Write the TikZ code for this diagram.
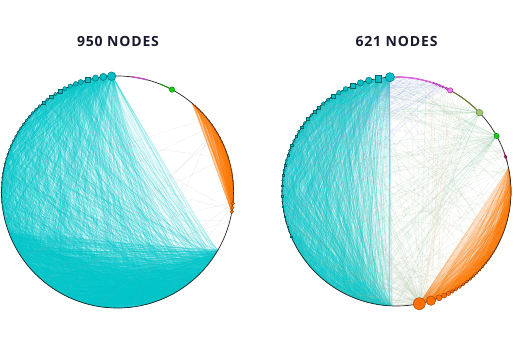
\documentclass[tikz,border=0pt]{standalone}
\usepackage{fontspec}
\setmainfont{Open Sans}
\newfontfamily\ttlfont[LetterSpace=6]{Open Sans}
\definecolor{cyE}{RGB}{0,196,200}
\definecolor{cyN}{RGB}{0,190,195}
\definecolor{cyD}{RGB}{0,100,105}
\definecolor{orE}{RGB}{255,118,0}
\definecolor{orN}{RGB}{255,112,0}
\definecolor{orD}{RGB}{150,60,0}
\definecolor{puA}{RGB}{200,60,200}
\definecolor{piA}{RGB}{230,90,230}
\definecolor{piN}{RGB}{240,120,240}
\definecolor{piD}{RGB}{150,50,150}
\definecolor{olA}{RGB}{110,130,50}
\definecolor{lgN}{RGB}{160,200,110}
\definecolor{lgD}{RGB}{90,120,60}
\definecolor{grN}{RGB}{20,205,20}
\definecolor{grD}{RGB}{10,120,10}
\definecolor{grA}{RGB}{30,150,30}
\definecolor{dmN}{RGB}{150,40,100}
\definecolor{paleG}{RGB}{140,200,160}
\definecolor{paleB}{RGB}{140,160,230}
\definecolor{paleO}{RGB}{245,190,140}
\definecolor{paleGr}{RGB}{170,190,160}
\definecolor{ttl}{RGB}{25,25,45}
\tikzset{
  cyedge/.style={draw=cyE, line width=0.3pt, draw opacity=0.3},
  cyedgeL/.style={draw=cyE, line width=0.3pt, draw opacity=0.18},
  oredge/.style={draw=orE, line width=0.3pt, draw opacity=0.35},
  oredgeL/.style={draw=orE, line width=0.3pt, draw opacity=0.15},
  faint/.style={draw=#1, line width=0.3pt, draw opacity=0.25},
  ring/.style={draw=black!85, line width=0.7pt},
  dotn/.style={inner sep=0pt, outer sep=0pt, line width=0.4pt},
  cyn/.style={dotn, fill=cyN, draw=cyD},
  orn/.style={dotn, fill=orN, draw=orD},
  ttlstyle/.style={font=\ttlfont\bfseries\fontsize{14}{16}\selectfont, text=ttl, anchor=base, inner sep=0pt},
}
\begin{document}
\begin{tikzpicture}[x=1pt,y=1pt]
\useasboundingbox (0,0) rectangle (517,341);
\node[ttlstyle] (t1) at (118,294.5) {950 NODES};
\node[ttlstyle] (t2) at (396.5,294.5) {621 NODES};

\begin{scope}[shift={(117.5,149)}]
  \foreach \k in {0,...,839} {\coordinate (A\k) at (\k/2:116);}
\end{scope}
\begin{scope}[shift={(396.5,149.5)}]
  \foreach \k in {0,...,839} {\coordinate (B\k) at (\k/2:114.5);}
\end{scope}

\pgfmathsetseed{4242}
% ---------- left circle edges ----------
\foreach \i in {1,...,1500} {
  \pgfmathrandominteger{\a}{200}{660}
  \pgfmathrandominteger{\b}{200}{660}
  \draw[cyedge] (A\a) -- (A\b);
}
\foreach \h/\n in {185/260,194/160,202/110,210/80,217/60,224/40,230/30} {
  \foreach \i in {1,...,\n} {
    \pgfmathrandominteger{\b}{200}{660}
    \draw[cyedgeL] (A\h) -- (A\b);
  }
}
\foreach \i in {1,...,1100} {
  \pgfmathrandominteger{\a}{400}{530}
  \pgfmathrandominteger{\b}{570}{660}
  \draw[cyedge] (A\a) -- (A\b);
}
\foreach \h/\n in {700/60,704/50,708/40,712/40} {
  \foreach \i in {1,...,\n} {
    \pgfmathrandominteger{\b}{714}{820}
    \draw[oredge] (A\h) -- (A\b);
  }
}
\foreach \i in {1,...,250} {
  \pgfmathrandominteger{\a}{705}{820}
  \pgfmathrandominteger{\b}{705}{820}
  \draw[oredge] (A\a) -- (A\b);
}
\foreach \i in {1,...,14} {
  \pgfmathrandominteger{\a}{690}{800}
  \pgfmathrandominteger{\b}{250}{650}
  \draw[faint=gray!70] (A\a) -- (A\b);
}

% ---------- right circle edges ----------
\foreach \i in {1,...,800} {
  \pgfmathrandominteger{\a}{210}{536}
  \pgfmathrandominteger{\b}{210}{536}
  \draw[cyedge] (B\a) -- (B\b);
}
\foreach \h/\n in {187/260,198/140,208/100,217/70,225/50,232/40} {
  \foreach \i in {1,...,\n} {
    \pgfmathrandominteger{\b}{220}{536}
    \draw[cyedgeL] (B\h) -- (B\b);
  }
}
\foreach \i in {1,...,250} {
  \pgfmathrandominteger{\a}{500}{536}
  \pgfmathrandominteger{\b}{220}{500}
  \draw[cyedge] (B\a) -- (B\b);
}
\foreach \h/\n in {563/200,575/140,583/60,589/40} {
  \foreach \i in {1,...,\n} {
    \pgfmathrandominteger{\b}{585}{744}
    \draw[oredgeL] (B\h) -- (B\b);
  }
}
\foreach \i in {1,...,450} {
  \pgfmathrandominteger{\a}{590}{744}
  \pgfmathrandominteger{\b}{590}{744}
  \draw[oredge] (B\a) -- (B\b);
}
\foreach \h/\n in {58/40,87/30} {
  \foreach \i in {1,...,\n} {
    \pgfmathrandominteger{\b}{190}{560}
    \draw[faint=paleG] (B\h) -- (B\b);
  }
}
\foreach \h/\n in {563/50,575/30} {
  \foreach \i in {1,...,\n} {
    \pgfmathrandominteger{\b}{100}{540}
    \draw[faint=paleGr] (B\h) -- (B\b);
  }
}
\foreach \i in {1,...,90} {
  \pgfmathrandominteger{\a}{120}{540}
  \pgfmathrandominteger{\b}{560}{780}
  \draw[faint=paleGr] (B\a) -- (B\b);
}
\foreach \i in {1,...,50} {
  \pgfmathrandominteger{\a}{124}{180}
  \pgfmathrandominteger{\b}{200}{420}
  \draw[faint=paleB] (B\a) -- (B\b);
}
\foreach \i in {1,...,12} {
  \pgfmathrandominteger{\a}{100}{180}
  \pgfmathrandominteger{\b}{563}{590}
  \draw[faint=paleO] (B\a) -- (B\b);
}

% ---------- rings and arcs ----------
\draw[ring] (117.5,149) circle (116);
\draw[ring] (396.5,149.5) circle (114.5);
\draw[puA, line width=1.2pt] (A166) arc[start angle=83, end angle=75, radius=116];
\draw[grA, line width=1pt] (A137) arc[start angle=68.5, end angle=62, radius=116];
\draw[piA, line width=1.3pt] (B180) arc[start angle=90, end angle=63, radius=114.5];
\draw[olA, line width=1pt] (B124) arc[start angle=62, end angle=44, radius=114.5];
\draw[grA, line width=0.9pt] (B64) arc[start angle=32, end angle=29, radius=114.5];
\draw[dmN, line width=1pt] (B40) arc[start angle=20, end angle=15, radius=114.5];

% ---------- left nodes ----------
\begin{scope}[shift={(117.5,149)}]
  \foreach \ang/\rr/\shp [count=\i] in {92.9/4.3/circle,97/3.6/circle,100.9/3.1/circle,105/2.7/rectangle,108.5/2.5/circle,111.1/2.3/circle,114.1/2.2/circle,117/2/circle,119.8/1.9/rectangle,122.4/1.8/circle,124.8/1.7/rectangle,127.2/1.6/circle,129.8/1.5/rectangle} {
    \pgfmathsetmacro\dd{2*\rr}
    \node[cyn, \shp, minimum size=\dd pt] (LC\i) at (\ang:116) {};
  }
  \foreach \j in {1,...,24} {
    \pgfmathsetmacro\ang{129.8+2.4*\j}
    \pgfmathsetmacro\dd{max(1.2,2.9-0.08*\j)}
    \node[cyn, circle, minimum size=\dd pt] (LT\j) at (\ang:116) {};
  }
  \foreach \j in {0,...,21} {
    \pgfmathsetmacro\ang{48-2.5*\j}
    \node[orn, circle, minimum size=1.3pt] (LO\j) at (\ang:116) {};
  }
  \foreach \ang [count=\i] in {-5.7,-7.7,-9.8} {
    \node[orn, circle, minimum size=3.4pt] (LH\i) at (\ang:116) {};
  }
  \node[dotn, circle, fill=grN, draw=grD, minimum size=5.5pt] (LG) at (62:116) {};
\end{scope}

% ---------- right nodes ----------
\begin{scope}[shift={(396.5,149.5)}]
  \foreach \ang/\rr/\shp [count=\i] in {93.3/4.6/circle,99.2/3.3/rectangle,104/3.3/circle,108.3/3.1/circle,112.5/2.8/rectangle,116.4/2.4/circle,120.2/2.2/circle,123.6/2.1/rectangle,126.7/1.9/circle,129.8/1.8/circle,132.9/1.7/rectangle} {
    \pgfmathsetmacro\dd{2*\rr}
    \node[cyn, \shp, minimum size=\dd pt] (RC\i) at (\ang:114.5) {};
  }
  \foreach \j in {1,...,28} {
    \pgfmathsetmacro\ang{132.9+2.6*\j}
    \pgfmathsetmacro\dd{max(1.2,3.1-0.08*\j)}
    \ifodd\j \node[cyn, rectangle, minimum size=\dd pt] (RT\j) at (\ang:114.5) {};
    \else \node[cyn, circle, minimum size=\dd pt] (RT\j) at (\ang:114.5) {}; \fi
  }
  \foreach \ang/\rr [count=\i] in {-78.5/6,-72.5/4.7,-68.1/3,-65.4/2.5,-63/2.1} {
    \pgfmathsetmacro\dd{2*\rr}
    \node[orn, circle, minimum size=\dd pt] (RO\i) at (\ang:114.5) {};
  }
  \foreach \j in {0,...,14} {
    \pgfmathsetmacro\ang{-60.8+2.2*\j}
    \pgfmathsetmacro\dd{max(1.2,3.6-0.17*\j)}
    \node[orn, circle, minimum size=\dd pt] (ROT\j) at (\ang:114.5) {};
  }
  \foreach \ang/\rr [count=\i] in {64/1.3,66/1.2,67.8/1.1,69.5/1,71/0.9} {
    \pgfmathsetmacro\dd{2*\rr}
    \node[dotn, circle, fill=piN, draw=piD, minimum size=\dd pt] (RP\i) at (\ang:114.5) {};
  }
  \node[dotn, circle, fill=piN, draw=piD, minimum size=5.4pt] (RPk) at (62:114.5) {};
  \node[dotn, circle, fill=lgN, draw=lgD, minimum size=6.6pt] (RLg) at (43.5:114.5) {};
  \node[dotn, circle, fill=grN, draw=grD, minimum size=5.2pt] (RG) at (29:114.5) {};
  \node[dotn, circle, fill=dmN, draw=dmN!60!black, minimum size=3pt] (RDm) at (17.7:114.5) {};
\end{scope}
\end{tikzpicture}
\end{document}
